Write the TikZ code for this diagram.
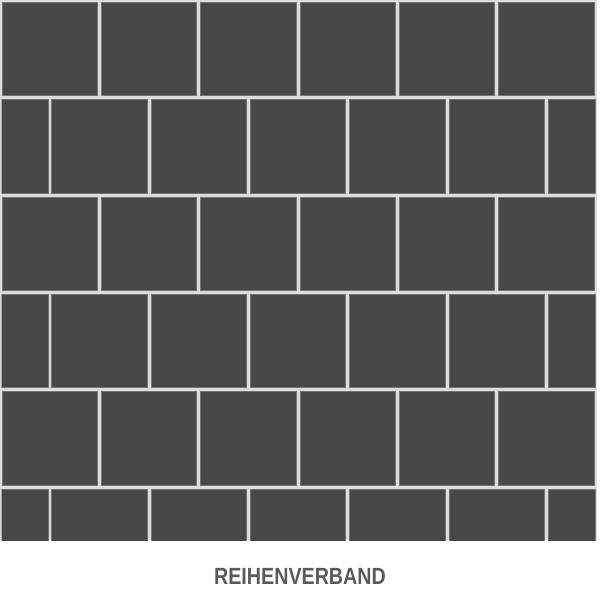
\documentclass[tikz,border=0pt]{standalone}
\usepackage{fontspec}
\setmainfont{Liberation Sans}
\usepackage{tikz}
\definecolor{platte}{HTML}{474747}
\definecolor{fuge}{HTML}{DCDCDC}
\definecolor{schrift}{HTML}{5A5A5A}
\tikzstyle{tile} = [fill=platte, draw=black!55, line width=0.4pt]
\tikzstyle{caption} = [text=schrift, font=\fontsize{20}{24}\selectfont\bfseries, inner sep=0pt]

\begin{document}
\begin{tikzpicture}[x=0.03cm, y=-0.03cm]

            \useasboundingbox (0,0) rectangle (600,588);

            %% Fugen
            \fill [fuge] (0,0) rectangle (597,540);

            %% Reihenverband
            \begin{scope}
                \clip (1.5,1.5) rectangle (595.5,540);
                \foreach \r in {0,...,5} {
                    \pgfmathsetmacro{\versatz}{mod(\r,2)*49.65}
                    \foreach \i in {0,...,6} {
                        \draw [tile] ({\i*99.3-\versatz+2},{\r*97.4+2}) rectangle ({\i*99.3-\versatz+97.4},{\r*97.4+95.5});
                    }
                }
            \end{scope}

            \node (label) [caption] at (300,576) {\scalebox{0.84}[1]{REIHENVERBAND}};

        \end{tikzpicture}
\end{document}
